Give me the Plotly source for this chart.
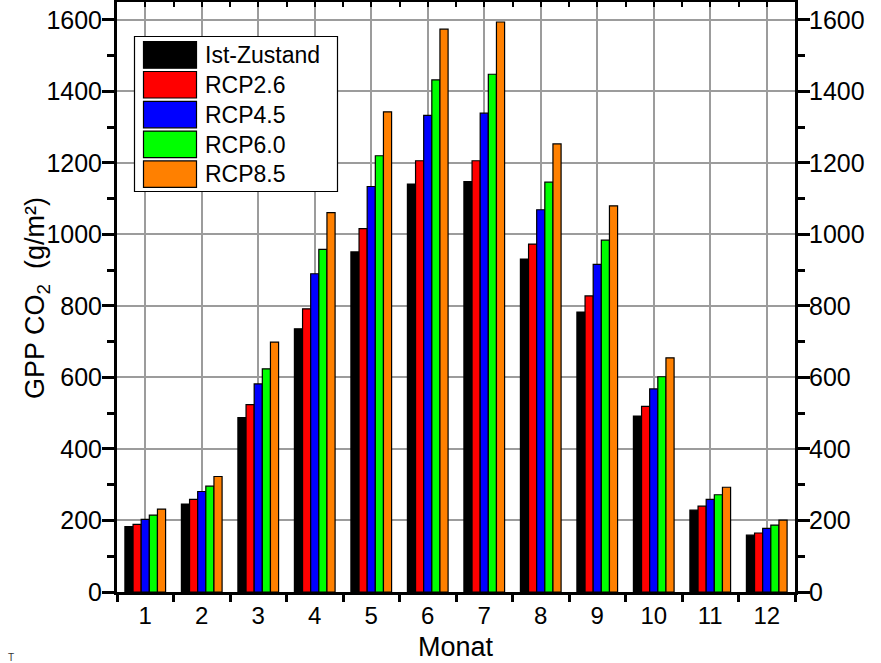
import plotly.graph_objects as go

# Monthly gross primary production (GPP) of CO2 per scenario
months = [1, 2, 3, 4, 5, 6, 7, 8, 9, 10, 11, 12]
month_labels = [str(m) for m in months]

ist_zustand = [183, 246, 488, 736, 951, 1141, 1148, 931, 783, 492, 229, 159]
rcp26 = [189, 259, 524, 792, 1016, 1206, 1206, 973, 828, 519, 240, 165]
rcp45 = [203, 281, 582, 890, 1134, 1333, 1339, 1069, 916, 568, 259, 178]
rcp60 = [215, 296, 624, 958, 1220, 1432, 1448, 1146, 984, 602, 272, 187]
rcp85 = [232, 323, 699, 1061, 1343, 1574, 1594, 1253, 1080, 655, 293, 201]

series_names = ["Ist-Zustand", "RCP2.6", "RCP4.5", "RCP6.0", "RCP8.5"]
series_values = [ist_zustand, rcp26, rcp45, rcp60, rcp85]
series_colors = ["#000000", "#ff0000", "#0000ff", "#00ff00", "#ff8000"]

FONT = "Liberation Sans, Arial, sans-serif"
Y_MAX = 1650

fig = go.Figure()
for name, vals, col in zip(series_names, series_values, series_colors):
    fig.add_trace(go.Bar(
        x=months, y=vals, name=name,
        marker=dict(color=col, line=dict(color="#000000", width=1.2)),
        showlegend=False,
    ))

# plot-area geometry in pixels (used to place the hand-built legend and titles)
W, H = 881, 663
L, R, T, B = 117, 86, 2, 71
pw, ph = W - L - R, H - T - B


def px_x(x):
    return (x - L) / pw


def px_y(y):
    return (H - B - y) / ph


shapes = []
annotations = []

# legend frame
shapes.append(dict(type="rect", xref="paper", yref="paper",
                   x0=px_x(134.5), x1=px_x(337.5), y0=px_y(191.5), y1=px_y(36.5),
                   fillcolor="white", line=dict(color="#000000", width=1.2),
                   layer="above"))
row0, pitch = 41.7, 29.8
for i, (name, col) in enumerate(zip(series_names, series_colors)):
    top = row0 + i * pitch
    shapes.append(dict(type="rect", xref="paper", yref="paper",
                       x0=px_x(143.5), x1=px_x(196.5), y0=px_y(top + 26.5), y1=px_y(top),
                       fillcolor=col, line=dict(color="#000000", width=1.2),
                       layer="above"))
    annotations.append(dict(xref="paper", yref="paper", x=px_x(203), y=px_y(top + 13.5),
                            text=name, showarrow=False, xanchor="left", yanchor="middle",
                            font=dict(family=FONT, size=23, color="black")))

# axis titles
annotations.append(dict(xref="paper", yref="paper", x=px_x(37), y=px_y(298),
                        text="GPP CO<sub>2</sub>  (g/m²)", textangle=-90,
                        showarrow=False, xanchor="center", yanchor="middle",
                        font=dict(family=FONT, size=27, color="black")))
annotations.append(dict(xref="paper", yref="paper", x=0.5, y=px_y(647),
                        text="Monat", showarrow=False, xanchor="center", yanchor="middle",
                        font=dict(family=FONT, size=27, color="black")))
# small mark in the lower-left corner
annotations.append(dict(xref="paper", yref="paper", x=px_x(11), y=px_y(657),
                        text="T", showarrow=False, xanchor="center", yanchor="middle",
                        font=dict(family=FONT, size=10, color="#333333")))

boundaries = [m + 0.5 for m in range(0, 13)]

fig.update_layout(
    width=W, height=H,
    margin=dict(l=L, r=R, t=T, b=B),
    paper_bgcolor="white", plot_bgcolor="white",
    barmode="group", bargap=0.28, bargroupgap=0.0,
    font=dict(family=FONT, size=24, color="black"),
    shapes=shapes, annotations=annotations,
    xaxis=dict(
        range=[0.5, 12.5], tickmode="array", tickvals=months, ticktext=month_labels,
        ticks="outside", ticklen=0, tickwidth=0.1, ticklabelstandoff=0,
        tickfont=dict(size=24),
        showgrid=True, gridcolor="#9c9c9c", gridwidth=1.6,
        showline=True, linecolor="black", linewidth=3,
        minor=dict(tickmode="array", tickvals=boundaries, ticks="outside",
                   ticklen=7, tickwidth=2.5, tickcolor="black", showgrid=False),
        zeroline=False,
    ),
    xaxis2=dict(
        overlaying="x", side="top", anchor="y", range=[0.5, 12.5],
        tickmode="array", tickvals=months, ticks="inside", ticklen=5, tickwidth=2,
        tickcolor="black", showticklabels=False, showgrid=False,
        showline=True, linecolor="black", linewidth=3,
        minor=dict(tickmode="array", tickvals=boundaries, ticks="inside",
                   ticklen=5, tickwidth=2, tickcolor="black", showgrid=False),
        zeroline=False,
    ),
    yaxis=dict(
        range=[0, Y_MAX], tickmode="linear", tick0=0, dtick=200,
        ticks="outside", ticklen=12, tickwidth=2.5, tickcolor="black",
        ticklabelstandoff=-5, tickfont=dict(size=25),
        showgrid=True, gridcolor="#9c9c9c", gridwidth=1.6,
        showline=True, linecolor="black", linewidth=3, zeroline=False,
        minor=dict(dtick=100, tick0=0, ticks="outside", ticklen=7, tickwidth=2.5,
                   tickcolor="black", showgrid=False),
    ),
    yaxis2=dict(
        overlaying="y", side="right", anchor="x", range=[0, Y_MAX],
        tickmode="linear", tick0=0, dtick=200,
        ticks="outside", ticklen=12, tickwidth=2.5, tickcolor="black",
        ticklabelstandoff=-6, tickfont=dict(size=25),
        showgrid=False, showline=True, linecolor="black", linewidth=3, zeroline=False,
        minor=dict(dtick=100, tick0=0, ticks="outside", ticklen=7, tickwidth=2.5,
                   tickcolor="black", showgrid=False),
    ),
)

# invisible helper trace so the top and right axes are rendered
fig.add_trace(go.Scatter(x=[None], y=[None], xaxis="x2", yaxis="y2",
                         showlegend=False, hoverinfo="skip"))

fig.write_html("out.html")
